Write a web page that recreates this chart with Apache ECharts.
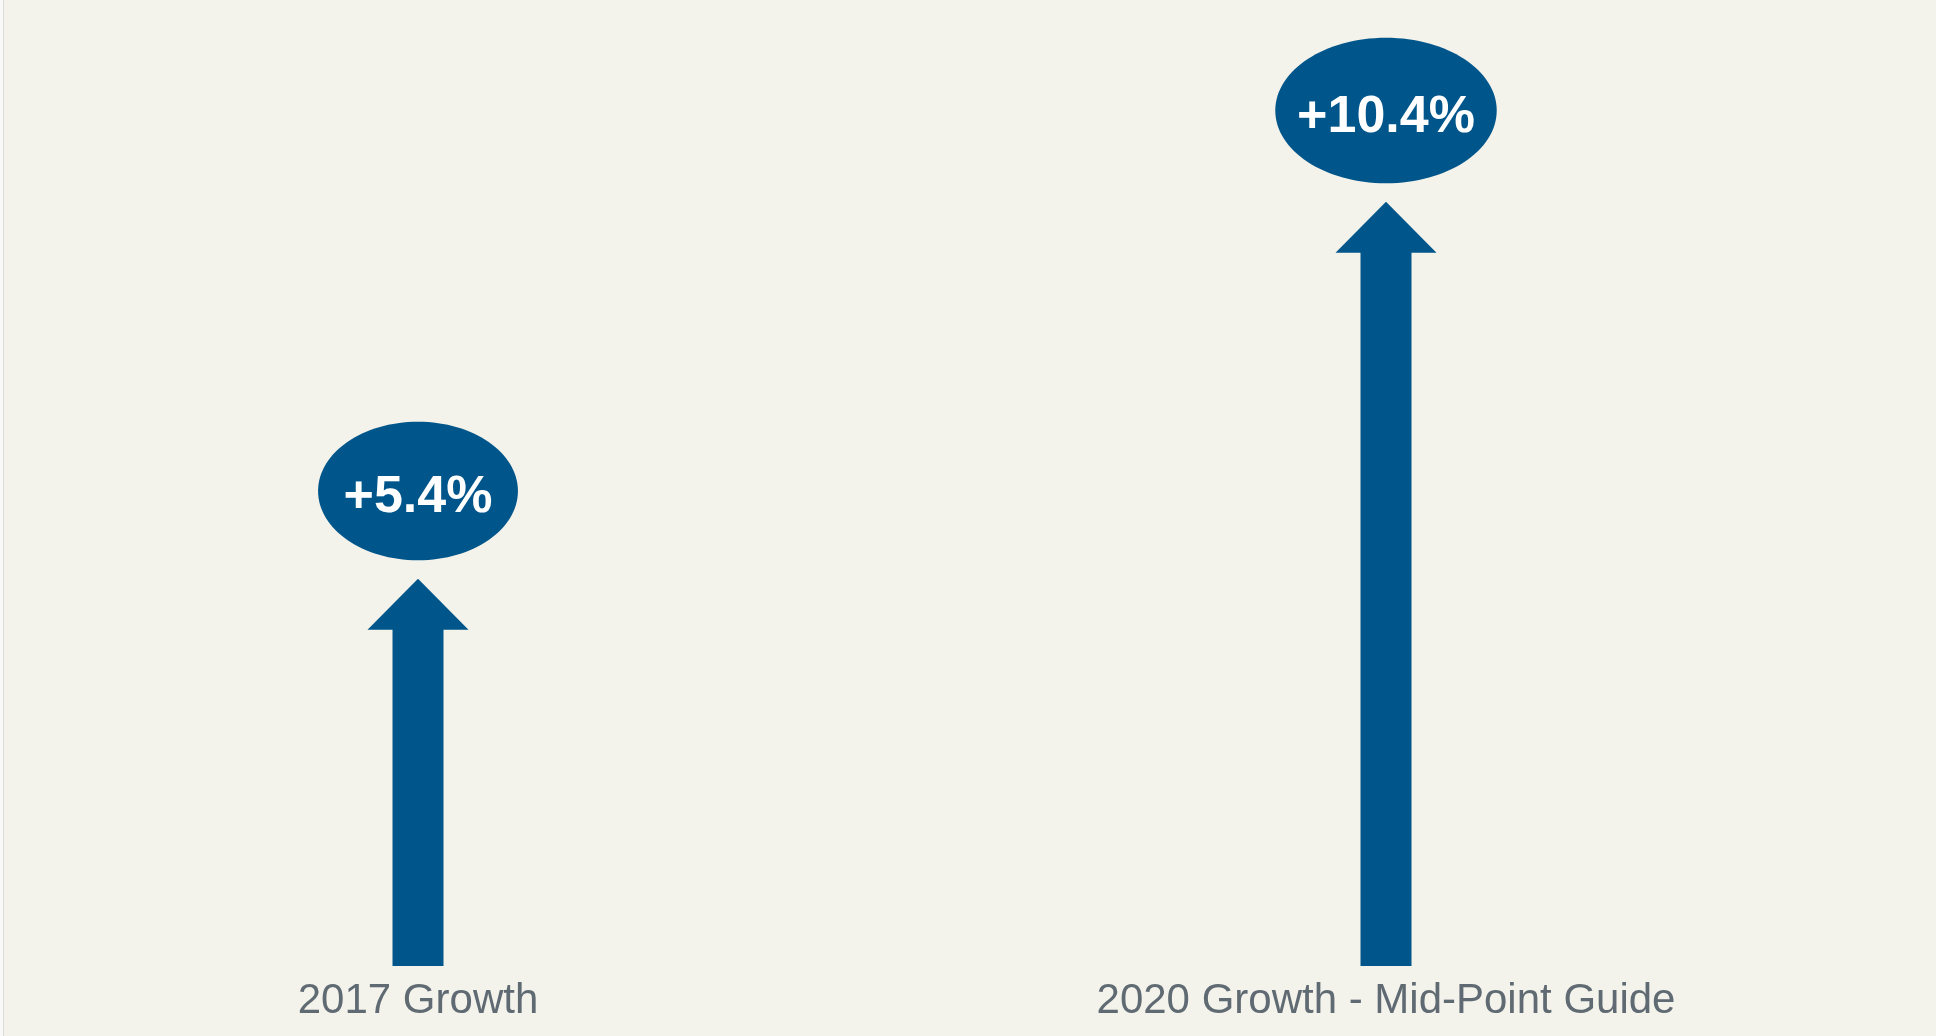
<!DOCTYPE html>
<html>
<head>
<meta charset="utf-8">
<script src="https://cdn.jsdelivr.net/npm/echarts@6/dist/echarts.min.js"></script>
<style>
  html, body { margin: 0; padding: 0; background: #F3F2EB; overflow: hidden; }
  #chart { position: absolute; left: -66px; top: 0; width: 2002px; height: 1036px; }
</style>
</head>
<body>
<div id="chart"></div>
<script>
// Data
const categories = ['2017 Growth', '2020 Growth - Mid-Point Guide'];
const growthValues = [5.4, 10.4];

const BLUE = '#00568A';
const LABEL_FONT = 'bold 52px "Liberation Sans", Arial, sans-serif';

const measureCtx = document.createElement('canvas').getContext('2d');
measureCtx.font = LABEL_FONT;

function fmt(v) { return '+' + v.toFixed(1) + '%'; }

const chart = echarts.init(document.getElementById('chart'), null, { renderer: 'canvas' });

chart.setOption({
  backgroundColor: '#F3F2EB',
  animation: false,
  grid: { left: 0, right: 66, top: 5.8, bottom: 50, containLabel: false },
  xAxis: {
    type: 'category',
    data: categories,
    axisLine: { show: false },
    axisTick: { show: false },
    splitLine: { show: false },
    axisLabel: {
      margin: 15,
      verticalAlign: 'middle',
      color: '#5F6A72',
      fontSize: 42,
      fontFamily: '"Liberation Sans", Arial, sans-serif',
      interval: 0
    }
  },
  yAxis: {
    type: 'value',
    min: 0,
    max: 13,
    show: false,
    splitLine: { show: false }
  },
  graphic: [
    { type: 'rect', shape: { x: 66, y: 0, width: 3, height: 1036 }, style: { fill: '#F8F8F6' }, z: 100 },
    { type: 'rect', shape: { x: 69, y: 0, width: 1, height: 1036 }, style: { fill: '#DCDCD8' }, z: 100 }
  ],
  series: [{
    type: 'custom',
    clip: false,
    data: growthValues.map((v, i) => [i, v]),
    renderItem: function (params, api) {
      const i = api.value(0);
      const v = api.value(1);
      const tip = api.coord([i, v]);
      const zero = api.coord([i, 0]);
      const cx = tip[0];
      const shaftW = 51, headW = 101, headH = 51;
      const bottom = zero[1] - 20;
      const hb = tip[1] + headH;
      const pts = [
        [cx - shaftW / 2, bottom],
        [cx - shaftW / 2, hb],
        [cx - headW / 2, hb],
        [cx, tip[1]],
        [cx + headW / 2, hb],
        [cx + shaftW / 2, hb],
        [cx + shaftW / 2, bottom]
      ];
      const text = fmt(v);
      const tw = measureCtx.measureText(text).width;
      const rx = 0.373 * tw + 44.4;
      const ry = 0.122 * tw + 51.1;
      const cy = tip[1] - 18.5 - ry;
      return {
        type: 'group',
        children: [
          { type: 'polygon', shape: { points: pts }, style: { fill: BLUE } },
          { type: 'ellipse', shape: { cx: cx, cy: cy, rx: rx, ry: ry }, style: { fill: BLUE } },
          { type: 'text', style: { text: text, x: cx, y: cy + 7, align: 'center', verticalAlign: 'middle', font: LABEL_FONT, fill: '#FFFFFF' } }
        ]
      };
    }
  }]
});
</script>
</body>
</html>
